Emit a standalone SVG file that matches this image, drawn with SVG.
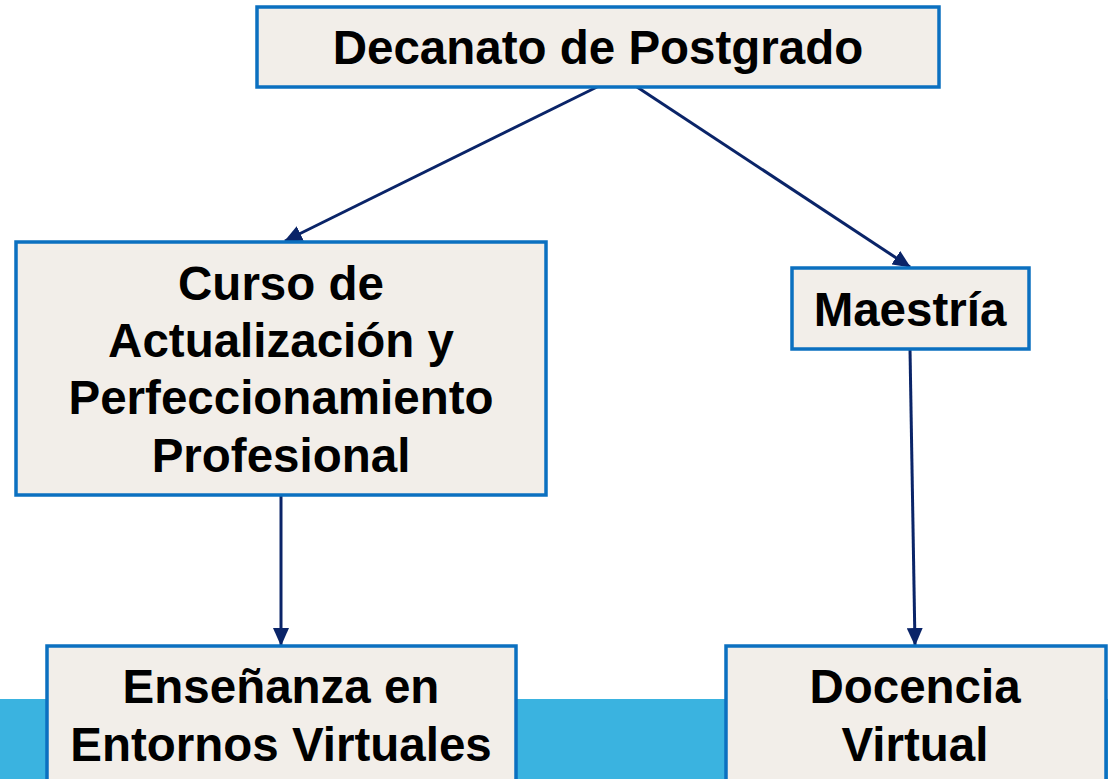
<svg xmlns="http://www.w3.org/2000/svg" width="1108" height="779" viewBox="0 0 1108 779">
<defs>
<style>
.box{fill:#F2EEE9;stroke:#0B70C0;stroke-width:3.5}
.t{font-family:"Liberation Sans",Arial,sans-serif;font-weight:bold;font-size:47.5px;fill:#000;text-anchor:middle}
.c{stroke:#0A2468;stroke-width:3;fill:none;marker-end:url(#ah)}
</style>
<marker id="ah" markerUnits="userSpaceOnUse" markerWidth="18" markerHeight="16" refX="17" refY="8" orient="auto">
<path d="M0,0 L18,8 L0,16 Z" fill="#0A2468"/>
</marker>
</defs>
<rect x="0" y="699" width="1108" height="80" fill="#3AB3E0"/>
<g id="connectors">
<line class="c" x1="597" y1="87" x2="285" y2="241"/>
<line class="c" x1="637" y1="87" x2="910" y2="267"/>
<line class="c" x1="281" y1="496" x2="281" y2="645"/>
<line class="c" x1="910" y1="349" x2="915" y2="645"/>
</g>
<g id="decanato">
<rect class="box" x="257" y="7" width="682" height="80"/>
<text class="t" x="598" y="64">Decanato de Postgrado</text>
</g>
<g id="curso">
<rect class="box" x="16" y="242" width="530" height="253"/>
<text class="t" x="281" y="300">Curso de</text>
<text class="t" x="281" y="357">Actualización y</text>
<text class="t" x="281" y="414">Perfeccionamiento</text>
<text class="t" x="281" y="472">Profesional</text>
</g>
<g id="maestria">
<rect class="box" x="792" y="268" width="237" height="81"/>
<text class="t" x="910" y="326">Maestría</text>
</g>
<g id="ensenanza">
<rect class="box" x="47" y="646" width="469" height="140"/>
<text class="t" x="281" y="703">Enseñanza en</text>
<text class="t" x="281" y="761">Entornos Virtuales</text>
</g>
<g id="docencia">
<rect class="box" x="726" y="646" width="380" height="140"/>
<text class="t" x="915" y="703">Docencia</text>
<text class="t" x="915" y="761">Virtual</text>
</g>
</svg>
